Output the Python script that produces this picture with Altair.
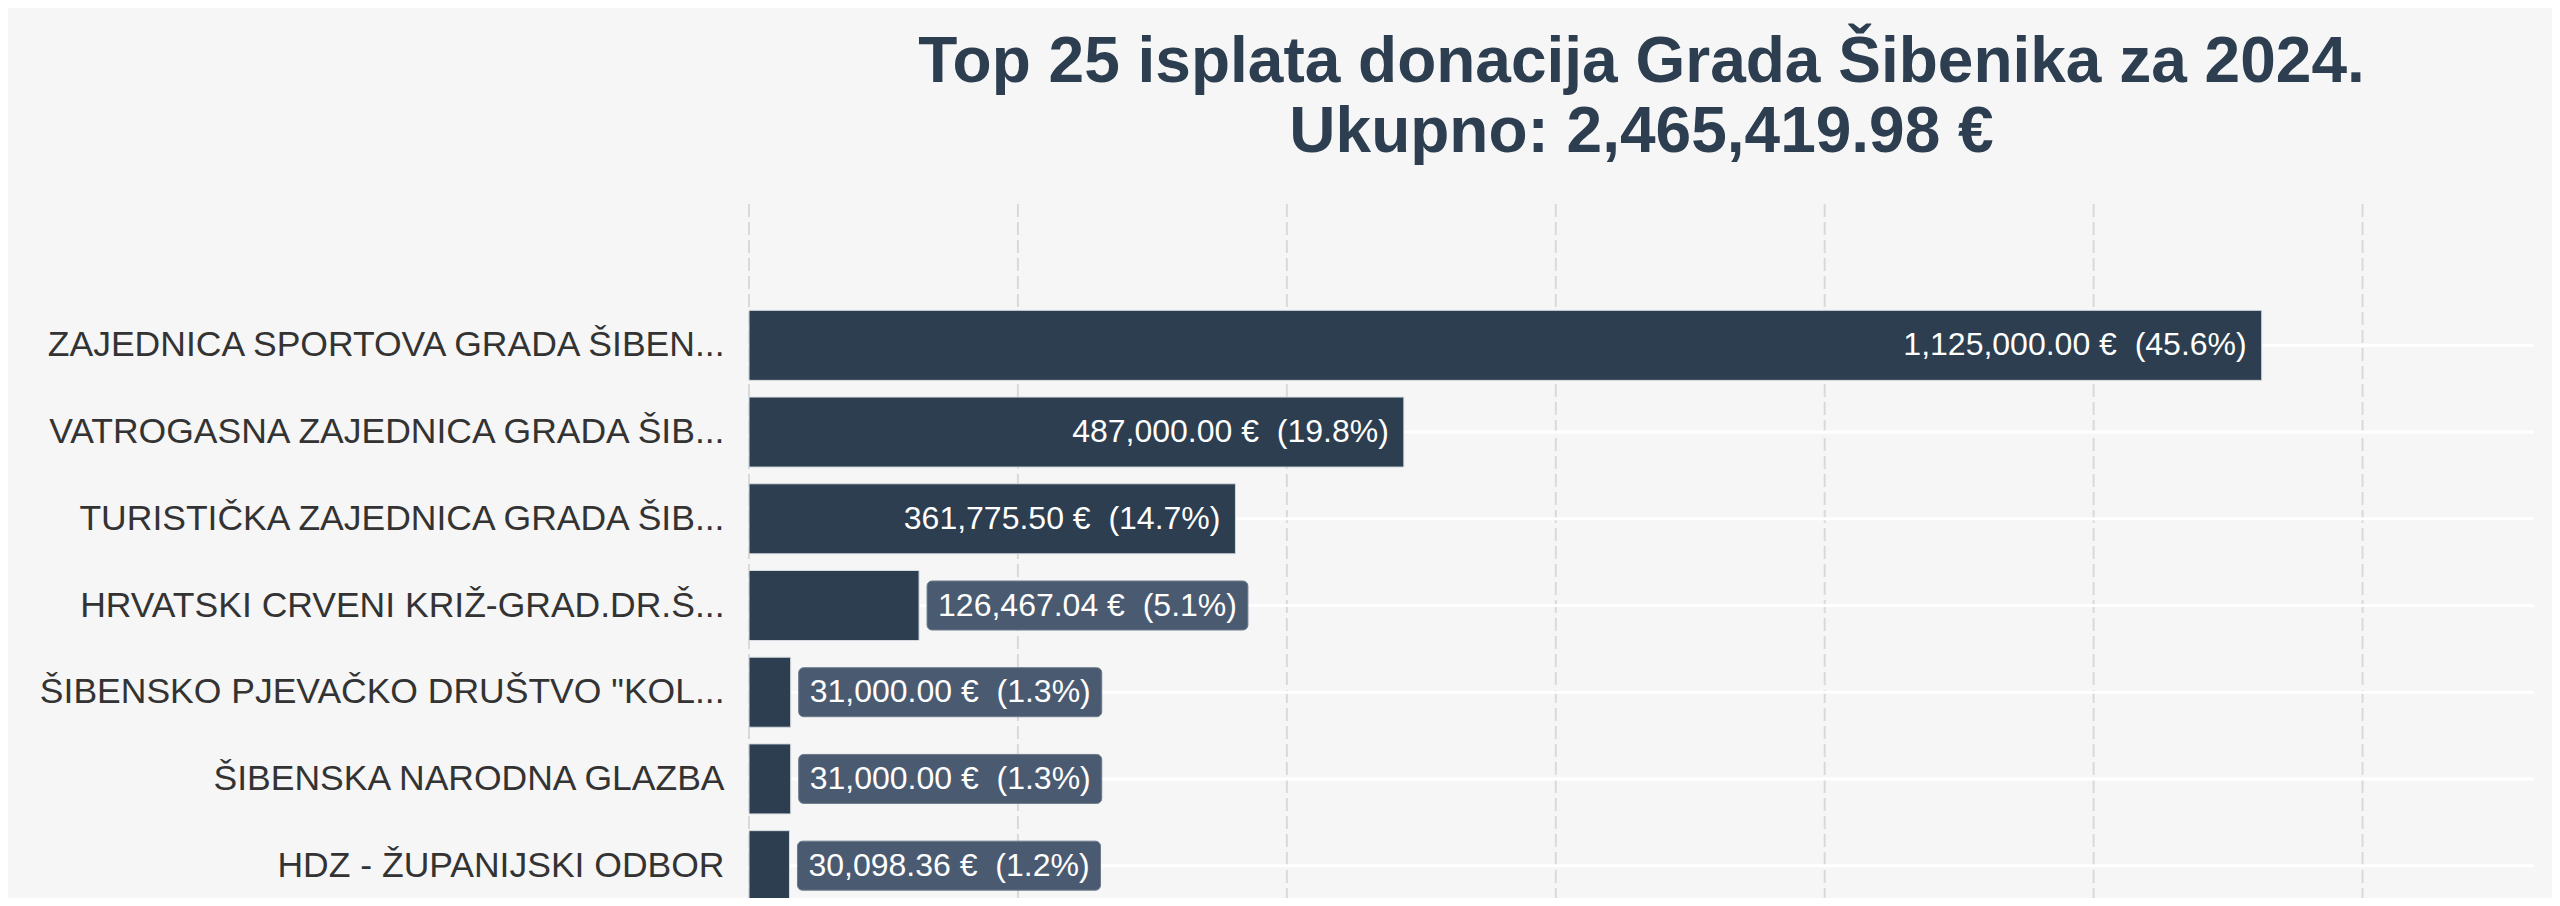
import altair as alt
import pandas as pd

# ---- data ----
names = [
    "ZAJEDNICA SPORTOVA GRADA ŠIBEN...",
    "VATROGASNA ZAJEDNICA GRADA ŠIB...",
    "TURISTIČKA ZAJEDNICA GRADA ŠIB...",
    "HRVATSKI CRVENI KRIŽ-GRAD.DR.Š...",
    'ŠIBENSKO PJEVAČKO DRUŠTVO "KOL...',
    "ŠIBENSKA NARODNA GLAZBA",
    "HDZ - ŽUPANIJSKI ODBOR",
]
values = [1125000.00, 487000.00, 361775.50, 126467.04, 31000.00, 31000.00, 30098.36]
TOTAL = 2465419.98
title_lines = ["Top 25 isplata donacija Grada Šibenika za 2024.", "Ukupno: 2,465,419.98 €"]
x_ticks = [0, 200000, 400000, 600000, 800000, 1000000, 1200000]

# ---- layout / style ----
X_MAX = max(values) * 1.18
W, H = 1785, 694
FONT = "Liberation Sans"
VAL_SIZE = 32
BAR_COLOR = "#2c3e50"
BOX_COLOR = "#4a5b71"
BG = "#f6f6f6"

# Arial / Liberation Sans advance widths (per 1000 em)
ADV = {c: 556 for c in "0123456789€"}
ADV.update({",": 278, ".": 278, " ": 278, "\u00a0": 278, "(": 333, ")": 333, "%": 889})


def text_width(s, size):
    return sum(ADV.get(c, 556) for c in s) * size / 1000.0


labels = [f"{v:,.2f} €\u00a0 ({v / TOTAL * 100:.1f}%)" for v in values]
df = pd.DataFrame({"name": names, "value": values, "label": labels})
df["tw"] = [text_width(s, VAL_SIZE) for s in labels]
df["inside"] = df["value"] * W / X_MAX > df["tw"] + 36
df["box_end"] = df["value"] + (df["tw"] + 22) * X_MAX / W

ticks_df = pd.DataFrame({"value": x_ticks})

Y = alt.Y(
    "name:N",
    sort=names,
    scale=alt.Scale(range=[98, 705], paddingInner=0, paddingOuter=0),
    axis=alt.Axis(
        title=None, labelFont=FONT, labelFontSize=35.5, labelColor="#333333",
        labelPadding=25, ticks=False, tickSize=0, domain=False,
        labelLimit=3000, grid=False,
    ),
)
X = alt.X(
    "value:Q",
    scale=alt.Scale(domain=[0, X_MAX], nice=False, zero=True),
    axis=alt.Axis(
        values=x_ticks, grid=False, labels=False, ticks=False, domain=False, title=None,
    ),
)

base = alt.Chart(df)

vgrid = alt.Chart(ticks_df).mark_rule(
    color="#d9d9d9", strokeWidth=2, strokeDash=[13, 5]
).encode(x=X, y=alt.value(0), y2=alt.value(H))

rules = base.mark_rule(color="white", strokeWidth=3).encode(
    y=Y, x=alt.value(0), x2=alt.value(W)
)
bars = base.mark_bar(color=BAR_COLOR, size=70, stroke="#d5dae0", strokeWidth=1).encode(
    x=X, y=Y
)
inside_txt = base.transform_filter("datum.inside").mark_text(
    align="right", baseline="middle", dx=-15, color="white",
    font=FONT, fontSize=VAL_SIZE,
).encode(x=X, y=Y, text="label:N")
boxes = base.transform_filter("!datum.inside").mark_bar(
    color=BOX_COLOR, size=49, cornerRadius=5, xOffset=8, x2Offset=8,
    stroke="#6d7b8c", strokeWidth=1,
).encode(x=X, x2="box_end:Q", y=Y)
outside_txt = base.transform_filter("!datum.inside").mark_text(
    align="left", baseline="middle", dx=19, color="white",
    font=FONT, fontSize=VAL_SIZE,
).encode(x=X, y=Y, text="label:N")

chart = alt.layer(vgrid, rules, bars, inside_txt, boxes, outside_txt).properties(
    width=W,
    height=H,
    title=alt.TitleParams(
        text=title_lines, font=FONT, fontSize=64, fontWeight="bold",
        color="#2c3e50", anchor="middle", frame="group", lineHeight=70, offset=38,
    ),
    padding={"left": 741, "top": 196, "right": 18, "bottom": 0},
    autosize=alt.AutoSizeParams(type="none"),
    background=BG,
).configure_view(stroke=None)

chart.save("out.html", embed_options={"renderer": "svg", "actions": False})
